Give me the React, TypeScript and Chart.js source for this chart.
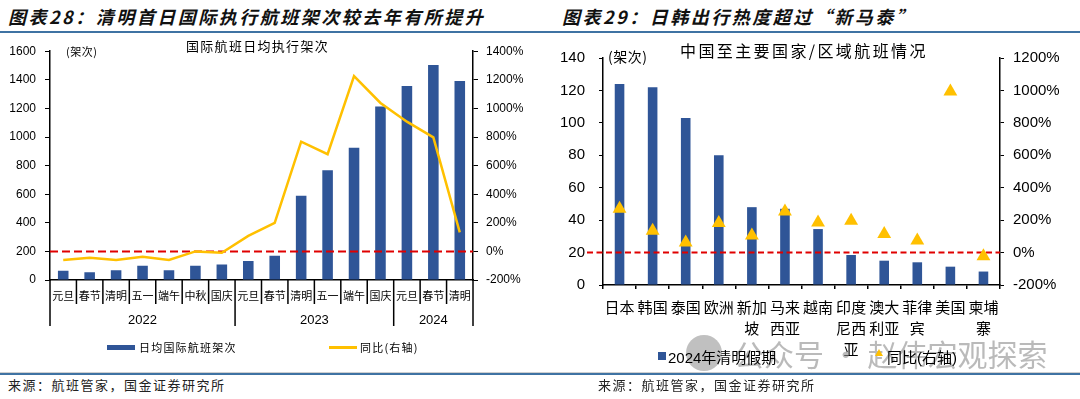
import React, { useEffect, useRef } from "react";
import { Chart, registerables } from "chart.js";
Chart.register(...registerables);

// ---------- data: left chart ----------
const leftCategories = ["元旦", "春节", "清明", "五一", "端午", "中秋", "国庆", "元旦", "春节", "清明", "五一", "端午", "国庆", "元旦", "春节", "清明"];
const leftYears = ["2022", "2023", "2024"];
const leftYearSpans = [7, 6, 3];
const leftFlights = [65, 55, 68, 100, 68, 100, 108, 133, 170, 590, 767, 925, 1214, 1357, 1504, 1391];
const leftYoY = [-60, -44, -60, -37, -60, 0, -9, 108, 200, 767, 680, 1226, 1038, 907, 797, 133];

// ---------- data: right chart ----------
const rightCategories = ["日本", "韩国", "泰国", "欧洲", "新加坡", "马来西亚", "越南", "印度尼西亚", "澳大利亚", "菲律宾", "美国", "柬埔寨"];
const rightFlights = [124, 122, 103, 80, 48, 47, 34.5, 18.5, 15, 14, 11.3, 8.3];
const rightYoY = [270, 135, 62, 183, 105, 254, 185, 197, 115, 75, 993, -22];

const BLUE = "#2F5597";
const GOLD = "#FFC000";
const RED = "#E00000";
const LINE_BLUE = "#3f73a3";
const CJK = '"Noto Sans CJK SC", "Noto Sans", sans-serif';
const NUM = '"Liberation Sans", "Noto Sans CJK SC", sans-serif';

Chart.defaults.font.family = NUM;
Chart.defaults.color = "#000";

const wrap2 = (s: string): string[] => {
  const out: string[] = [];
  for (let i = 0; i < s.length; i += 2) out.push(s.slice(i, i + 2));
  return out;
};

const leftPlugin = {
  id: "leftDeco",
  afterDatasetDraw(chart: any, args: any) {
    if (args.index !== 0) return;
    const { ctx, chartArea, scales } = chart;
    const yy = scales.y1.getPixelForValue(0);
    ctx.save();
    ctx.strokeStyle = RED;
    ctx.lineWidth = 2;
    ctx.setLineDash([8, 4]);
    ctx.beginPath();
    ctx.moveTo(chartArea.left, yy);
    ctx.lineTo(chartArea.right, yy);
    ctx.stroke();
    ctx.restore();
  },
  afterDraw(chart: any) {
    const { ctx, chartArea, scales } = chart;
    const x = scales.x;
    const w = x.getPixelForValue(1) - x.getPixelForValue(0);
    const x0 = x.getPixelForValue(0) - w / 2;
    const bottom = chartArea.bottom;
    const groupEdges = new Set<number>([0]);
    let acc = 0;
    leftYearSpans.forEach((s) => {
      acc += s;
      groupEdges.add(acc);
    });
    ctx.save();
    ctx.strokeStyle = "#000";
    ctx.lineWidth = 1.5;
    for (let i = 0; i <= leftCategories.length; i++) {
      const xx = x0 + i * w;
      const len = groupEdges.has(i) ? 46 : 24;
      ctx.beginPath();
      ctx.moveTo(xx, bottom);
      ctx.lineTo(xx, bottom + len);
      ctx.stroke();
    }
    ctx.fillStyle = "#000";
    ctx.font = '13px "Liberation Sans"';
    ctx.textAlign = "center";
    ctx.textBaseline = "middle";
    let start = 0;
    leftYears.forEach((yr, gi) => {
      const end = start + leftYearSpans[gi];
      ctx.fillText(yr, x0 + ((start + end) / 2) * w, bottom + 40);
      start = end;
    });
    ctx.restore();
  },
};

const rightPlugin = {
  id: "rightDeco",
  afterDatasetDraw(chart: any, args: any) {
    if (args.index !== 0) return;
    const { ctx, chartArea, scales } = chart;
    const yy = scales.y1.getPixelForValue(0);
    ctx.save();
    ctx.strokeStyle = RED;
    ctx.lineWidth = 2;
    ctx.setLineDash([6, 3.5]);
    ctx.beginPath();
    ctx.moveTo(chartArea.left - 16, yy);
    ctx.lineTo(chartArea.right, yy);
    ctx.stroke();
    ctx.restore();
  },
};

function LeftChart() {
  const ref = useRef<HTMLCanvasElement>(null);
  useEffect(() => {
    const chart = new Chart(ref.current as HTMLCanvasElement, {
      type: "bar",
      data: {
        labels: leftCategories,
        datasets: [
          {
            type: "bar",
            label: "日均国际航班架次",
            data: leftFlights,
            backgroundColor: BLUE,
            yAxisID: "y",
            order: 2,
            barPercentage: 0.4,
            categoryPercentage: 1,
          } as any,
          {
            type: "line",
            label: "同比(右轴)",
            data: leftYoY,
            borderColor: GOLD,
            borderWidth: 2.5,
            pointRadius: 0,
            tension: 0,
            yAxisID: "y1",
            order: 1,
          } as any,
        ],
      },
      options: {
        animation: false,
        responsive: false,
        events: [],
        layout: { padding: { top: 13, left: 0, right: 0, bottom: 0 } },
        plugins: { legend: { display: false }, tooltip: { enabled: false } },
        scales: {
          x: {
            offset: true,
            grid: { display: false, drawTicks: false },
            border: { color: "#000", width: 1.5 },
            ticks: { autoSkip: false, maxRotation: 0, minRotation: 0, padding: 9, color: "#000", font: { size: 11, family: CJK } },
            afterFit: (s: any) => { s.height = 90; },
          },
          y: {
            position: "left",
            min: 0,
            max: 1600,
            ticks: { stepSize: 200, padding: 9, color: "#000", font: { size: 12 }, callback: (v: any) => String(v) },
            grid: { drawOnChartArea: false, tickLength: 5, color: "#000", lineWidth: 1 },
            border: { color: "#000", width: 1.5 },
            afterFit: (s: any) => { s.width = 50; },
          },
          y1: {
            position: "right",
            min: -200,
            max: 1400,
            ticks: { stepSize: 200, padding: 8, color: "#000", font: { size: 12 }, callback: (v: any) => v + "%" },
            grid: { drawOnChartArea: false, tickLength: 5, color: "#000", lineWidth: 1 },
            border: { color: "#000", width: 1.5 },
            afterFit: (s: any) => { s.width = 67; },
          },
        },
      } as any,
      plugins: [leftPlugin],
    });
    return () => chart.destroy();
  }, []);
  return <canvas ref={ref} width={540} height={335} style={{ position: "absolute", left: 0, top: 35 }} />;
}

function RightChart() {
  const ref = useRef<HTMLCanvasElement>(null);
  useEffect(() => {
    const chart = new Chart(ref.current as HTMLCanvasElement, {
      type: "bar",
      data: {
        labels: rightCategories.map(wrap2),
        datasets: [
          {
            type: "bar",
            label: "2024年清明假期",
            data: rightFlights,
            backgroundColor: BLUE,
            yAxisID: "y",
            order: 2,
            barPercentage: 0.29,
            categoryPercentage: 1,
          } as any,
          {
            type: "line",
            label: "同比(右轴)",
            data: rightYoY,
            showLine: false,
            pointStyle: "triangle",
            pointRadius: 8,
            pointBackgroundColor: GOLD,
            pointBorderColor: GOLD,
            pointBorderWidth: 0,
            yAxisID: "y1",
            order: 1,
          } as any,
        ],
      },
      options: {
        animation: false,
        responsive: false,
        events: [],
        layout: { padding: { top: 18, left: 0, right: 0, bottom: 0 } },
        plugins: { legend: { display: false }, tooltip: { enabled: false } },
        scales: {
          x: {
            offset: true,
            grid: { offset: true, drawOnChartArea: false, tickLength: 4, color: "#000", lineWidth: 1.5 },
            border: { color: "#000", width: 1.5 },
            ticks: { autoSkip: false, maxRotation: 0, minRotation: 0, padding: 8, color: "#000", font: { size: 15, family: CJK, lineHeight: 1.4 } },
            afterFit: (s: any) => { s.height = 85; },
          },
          y: {
            position: "left",
            min: 0,
            max: 140,
            ticks: { stepSize: 20, padding: 14, color: "#000", font: { size: 15 }, callback: (v: any) => String(v) },
            grid: { drawOnChartArea: false, tickLength: 4, color: "#000", lineWidth: 1 },
            border: { color: "#000", width: 1.5 },
            afterFit: (s: any) => { s.width = 63; },
          },
          y1: {
            position: "right",
            min: -200,
            max: 1200,
            ticks: { stepSize: 200, padding: 9, color: "#000", font: { size: 15 }, callback: (v: any) => v + "%" },
            grid: { drawOnChartArea: false, tickLength: 4, color: "#000", lineWidth: 1 },
            border: { color: "#000", width: 1.5 },
            afterFit: (s: any) => { s.width = 80; },
          },
        },
      } as any,
      plugins: [rightPlugin],
    });
    return () => chart.destroy();
  }, []);
  return <canvas ref={ref} width={540} height={335} style={{ position: "absolute", left: 540, top: 35 }} />;
}

const T = ({ x, y, size, children, style }: any) => (
  <div
    style={{
      position: "absolute",
      left: x,
      top: y - size / 2,
      fontSize: size,
      lineHeight: `${size}px`,
      whiteSpace: "nowrap",
      color: "#000",
      fontFamily: CJK,
      ...style,
    }}
  >
    {children}
  </div>
);

export default function App() {
  return (
    <div style={{ position: "absolute", left: 0, top: 0, width: 1080, height: 399, background: "#fff", overflow: "hidden" }}>
      {/* headers */}
      <T x={8} y={16} size={18} style={{ fontWeight: 700, fontStyle: "italic", letterSpacing: 2.5, color: "#111" }}>
        图表28：清明首日国际执行航班架次较去年有所提升
      </T>
      <T x={562} y={16} size={18} style={{ fontWeight: 700, fontStyle: "italic", letterSpacing: 2.5, color: "#111" }}>
        图表29：日韩出行热度超过“新马泰”
      </T>
      <div style={{ position: "absolute", left: 0, top: 31, width: 1080, height: 2, background: LINE_BLUE }} />

      <LeftChart />
      <RightChart />

      {/* in-plot titles */}
      <T x={186} y={45} size={13} style={{ letterSpacing: 1.3 }}>国际航班日均执行架次</T>
      <T x={66} y={51} size={11} style={{ letterSpacing: 0.5 }}>(架次)</T>
      <T x={680} y={50} size={16} style={{ letterSpacing: 2.4 }}>中国至主要国家/区域航班情况</T>
      <T x={608} y={56} size={14} style={{ letterSpacing: 0.5 }}>(架次)</T>

      {/* left legend */}
      <div style={{ position: "absolute", left: 107, top: 344.5, width: 28, height: 5, background: BLUE }} />
      <T x={139} y={347} size={11} style={{ letterSpacing: 1.2 }}>日均国际航班架次</T>
      <div style={{ position: "absolute", left: 329, top: 346, width: 28, height: 2.5, background: GOLD }} />
      <T x={360} y={347} size={11} style={{ letterSpacing: 1.2 }}>同比(右轴)</T>

      {/* watermark */}
      <div style={{ position: "absolute", left: 686, top: 335, width: 36, height: 36, borderRadius: 18, background: "rgba(140,140,140,0.55)" }} />
      <T x={734} y={353} size={30} style={{ color: "rgba(140,140,140,0.6)", letterSpacing: 0 }}>公众号 · 赵伟宏观探索</T>

      {/* right legend */}
      <div style={{ position: "absolute", left: 658, top: 352, width: 8, height: 8, background: BLUE }} />
      <T x={668} y={357} size={15} style={{ fontFamily: NUM }}>2024年清明假期</T>
      <div
        style={{
          position: "absolute",
          left: 875,
          top: 349,
          width: 0,
          height: 0,
          borderLeft: "4px solid transparent",
          borderRight: "4px solid transparent",
          borderBottom: `7px solid ${GOLD}`,
        }}
      />
      <T x={887} y={357} size={15} style={{ fontFamily: NUM }}>同比(右轴)</T>

      {/* footer */}
      <div style={{ position: "absolute", left: 0, top: 372, width: 1080, height: 1, background: "#cfcfcf" }} />
      <div style={{ position: "absolute", left: 0, top: 373, width: 1080, height: 2, background: LINE_BLUE }} />
      <T x={8} y={384} size={13} style={{ letterSpacing: 1.5, color: "#222" }}>来源：航班管家，国金证券研究所</T>
      <T x={598} y={384} size={13} style={{ letterSpacing: 1.5, color: "#222" }}>来源：航班管家，国金证券研究所</T>
    </div>
  );
}
